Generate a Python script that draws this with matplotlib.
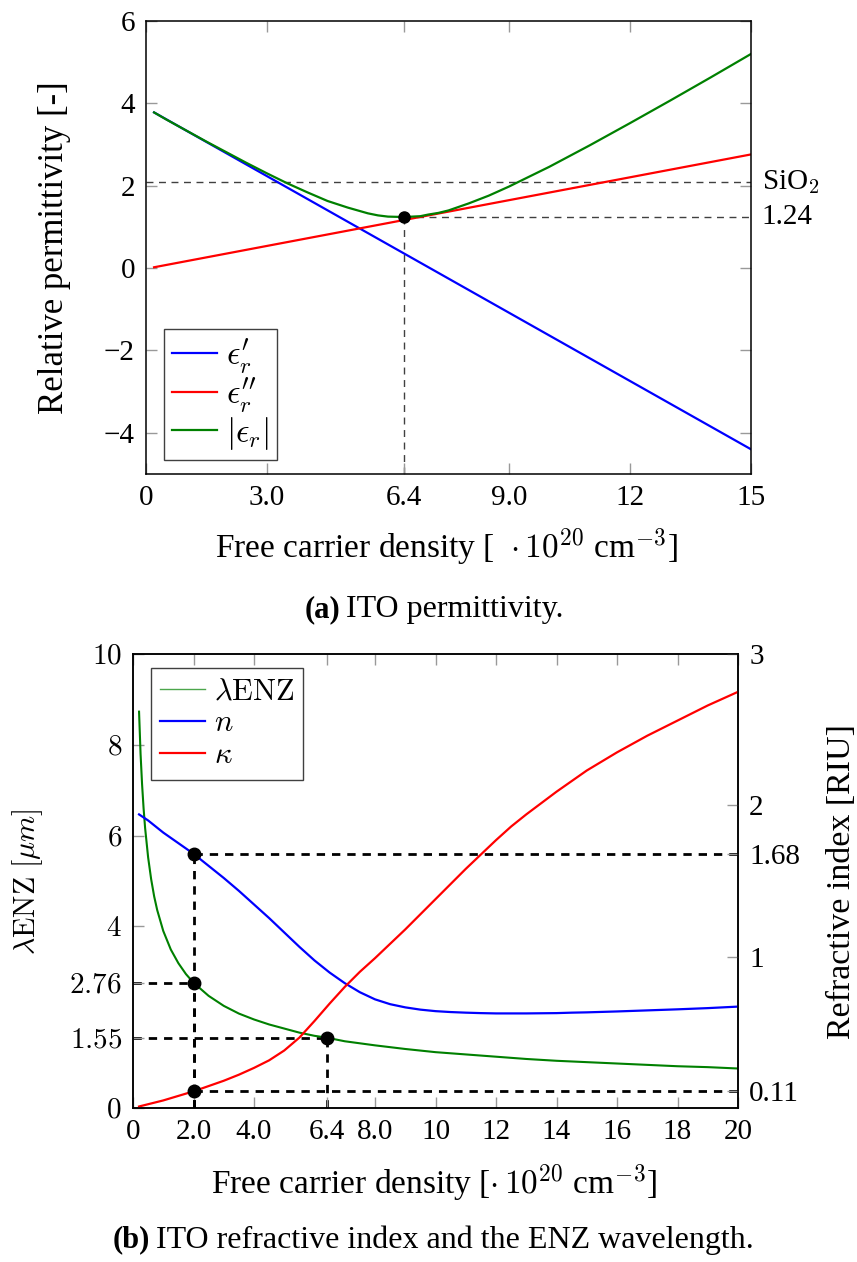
import matplotlib
matplotlib.use("Agg")
import matplotlib.pyplot as plt
from matplotlib.lines import Line2D

# (a) ITO permittivity vs free carrier density [1e20 cm^-3]
carrier_a = [0.2, 15.0]
eps_real = [3.78, -4.40]
eps_imag = [0.02, 2.76]
carrier_abs = [0.2, 0.5, 1.0, 1.5, 2.0, 2.5, 3.0, 3.5, 4.0, 4.5, 5.0, 5.5, 5.75,
               6.0, 6.4, 6.8, 7.0, 7.25, 7.5, 8.0, 8.5, 9.0, 9.5, 10, 11, 12,
               13, 14, 15]
eps_abs = [3.78, 3.61, 3.34, 3.07, 2.81, 2.55, 2.30, 2.06, 1.84, 1.63, 1.47,
           1.33, 1.28, 1.25, 1.24, 1.26, 1.30, 1.34, 1.40, 1.57, 1.76, 1.98,
           2.22, 2.46, 2.98, 3.52, 4.07, 4.63, 5.20]
sio2_eps = 2.08
enz_point = (6.4, 1.24)
xticks_a = [0, 3.0, 6.4, 9.0, 12, 15]
xticklabels_a = ["0", "3.0", "6.4", "9.0", "12", "15"]
yticks_a = [-4, -2, 0, 2, 4, 6]

# (b) ENZ wavelength (left axis, um) and refractive index (right axis, RIU)
carrier_lam = [0.2, 0.25, 0.3, 0.35, 0.4, 0.5, 0.6, 0.7, 0.8, 1.0, 1.25, 1.5,
               1.75, 2.0, 2.5, 3.0, 3.5, 4.0, 4.5, 5.0, 5.5, 6.0, 6.4, 7, 8, 9,
               10, 11, 12, 13, 14, 15, 16, 17, 18, 19, 20]
lambda_enz = [8.73, 7.80, 7.13, 6.60, 6.17, 5.52, 5.04, 4.66, 4.36, 3.90, 3.49,
              3.19, 2.95, 2.76, 2.47, 2.25, 2.08, 1.95, 1.84, 1.75, 1.66, 1.59,
              1.55, 1.47, 1.38, 1.30, 1.23, 1.18, 1.13, 1.08, 1.04, 1.01, 0.98,
              0.95, 0.92, 0.90, 0.87]
carrier_idx = [0.2, 0.5, 1.0, 1.5, 2.0, 2.5, 3.0, 3.5, 4.0, 4.5, 5.0, 5.5, 6.0,
               6.5, 7.0, 7.5, 8.0, 8.5, 9.0, 9.5, 10, 10.5, 11, 11.5, 12, 12.5,
               13, 13.5, 14, 14.5, 15, 16, 17, 18, 19, 20]
n_index = [1.94, 1.90, 1.82, 1.75, 1.68, 1.60, 1.52, 1.435, 1.345, 1.255, 1.16,
           1.065, 0.975, 0.895, 0.825, 0.765, 0.718, 0.686, 0.665, 0.65, 0.64,
           0.634, 0.63, 0.627, 0.625, 0.625, 0.625, 0.626, 0.627, 0.63, 0.632,
           0.638, 0.645, 0.652, 0.66, 0.67]
kappa = [0.01, 0.025, 0.05, 0.08, 0.11, 0.145, 0.18, 0.22, 0.265, 0.315, 0.38,
         0.465, 0.575, 0.69, 0.80, 0.90, 0.99, 1.085, 1.18, 1.28, 1.38, 1.48,
         1.58, 1.675, 1.77, 1.86, 1.94, 2.015, 2.09, 2.16, 2.23, 2.35, 2.46,
         2.56, 2.66, 2.75]
mark_lam = [(2.0, 2.76), (6.4, 1.55)]
mark_idx = [(2.0, 1.68), (2.0, 0.11)]
xticks_b = [0, 2.0, 4.0, 6.4, 8.0, 10, 12, 14, 16, 18, 20]
xticklabels_b = ["0", "2.0", "4.0", "6.4", "8.0", "10", "12", "14", "16", "18", "20"]
yticks_b = [0, 1.55, 2.76, 4, 6, 8, 10]
yticklabels_b = ["$0$", "$1.55$", "$2.76$", "$4$", "$6$", "$8$", "$10$"]
yticks_b_right = [0.11, 1, 1.68, 2, 3]
yticklabels_b_right = ["0.11", "1", "1.68", "2", "3"]

plt.rcParams["font.family"] = ["Liberation Serif", "DejaVu Serif"]
plt.rcParams["mathtext.fontset"] = "cm"

W, H = 857, 1262
BLUE, RED, GREEN = "#0000ff", "#ff0000", "#008000"
TICK_FS = 21


def px(x, y):
    return x / W, 1 - y / H


def style_axis(axis):
    axis.tick_params(direction="in", length=8, width=1, color="0.6",
                     labelsize=TICK_FS, pad=8)
    for sp in axis.spines.values():
        sp.set_linewidth(1.1)


fig = plt.figure(figsize=(W / 100, H / 100), dpi=100)

# ---------------- (a) ----------------
ax1 = fig.add_axes([146 / W, 1 - 474 / H, 605 / W, 453 / H])
ax1.plot(carrier_a, eps_real, color=BLUE, lw=1.6, label=r"$\epsilon_r'$")
ax1.plot(carrier_a, eps_imag, color=RED, lw=1.6, label=r"$\epsilon_r''$")
ax1.plot(carrier_abs, eps_abs, color=GREEN, lw=1.6, label=r"$|\epsilon_r|$")

dash_kw = dict(color="0.25", lw=1.0, dashes=(5, 4), zorder=1)
ax1.plot([0, 15], [sio2_eps, sio2_eps], **dash_kw)
ax1.plot([enz_point[0], 15], [enz_point[1], enz_point[1]], **dash_kw)
ax1.plot([enz_point[0], enz_point[0]], [-5, enz_point[1]], **dash_kw)
ax1.plot(*enz_point, "o", color="k", ms=8, zorder=5)

ax1.set_xlim(0, 15)
ax1.set_ylim(-5, 6)
ax1.set_xticks(xticks_a)
ax1.set_xticklabels(xticklabels_a)
ax1.set_yticks(yticks_a)
style_axis(ax1)
ax1.tick_params(top=True, right=True)

ax1.text(1.018, sio2_eps, "SiO$_2$", transform=ax1.get_yaxis_transform(),
         fontsize=TICK_FS, va="center", ha="left")
ax1.text(1.018, enz_point[1], "1.24", transform=ax1.get_yaxis_transform(),
         fontsize=TICK_FS, va="center", ha="left")

leg1 = ax1.legend(loc="lower left", bbox_to_anchor=(0.03, 0.031),
                  borderaxespad=0, fontsize=24, fancybox=False,
                  edgecolor="0.25", framealpha=1, handlelength=1.35,
                  handletextpad=0.25, labelspacing=0.0, borderpad=0.25)
leg1.get_frame().set_linewidth(1.0)

fig.text(*px(55, 248), "Relative permittivity [-]", rotation=90,
         fontsize=25, ha="center", va="center")
fig.text(*px(447, 547), r"Free carrier density [  $\cdot\,10^{20}$ cm$^{-3}$]",
         fontsize=24, ha="center", va="center")
fig.text(*px(340, 610), "(a)", fontsize=22, fontweight="bold",
         ha="right", va="center")
fig.text(*px(346, 610), "ITO permittivity.", fontsize=23,
         ha="left", va="center")

# ---------------- (b) ----------------
ax2 = fig.add_axes([133 / W, 1 - 1108 / H, 605 / W, 454 / H])
ax2r = ax2.twinx()

ax2.plot(carrier_lam, lambda_enz, color=GREEN, lw=1.5)
ax2r.plot(carrier_idx, n_index, color=BLUE, lw=1.6)
ax2r.plot(carrier_idx, kappa, color=RED, lw=1.6)

dash_b = dict(color="k", lw=2.0, dashes=(3, 2.5), zorder=1)
for xv, yv in mark_lam:
    ax2.plot([0, xv], [yv, yv], **dash_b)
    ax2.plot([xv, xv], [0, yv], **dash_b)
for xv, yv in mark_idx:
    ax2r.plot([xv, 20], [yv, yv], **dash_b)
    ax2r.plot([xv, xv], [0, yv], **dash_b)
ax2.plot([p[0] for p in mark_lam], [p[1] for p in mark_lam], "o",
         color="k", ms=9, zorder=5)
ax2r.plot([p[0] for p in mark_idx], [p[1] for p in mark_idx], "o",
          color="k", ms=9, zorder=5)

ax2.set_xlim(0, 20)
ax2.set_ylim(0, 10)
ax2r.set_ylim(0, 3)
ax2.set_xticks(xticks_b)
ax2.set_xticklabels(xticklabels_b)
ax2.set_yticks(yticks_b)
ax2.set_yticklabels(yticklabels_b)
ax2r.set_yticks(yticks_b_right)
ax2r.set_yticklabels(yticklabels_b_right)
style_axis(ax2)
style_axis(ax2r)
ax2.tick_params(top=True)

handles = [Line2D([], [], color=GREEN, lw=1.0, alpha=0.7),
           Line2D([], [], color=BLUE, lw=1.6),
           Line2D([], [], color=RED, lw=1.6)]
labels = [r"$\lambda\mathrm{ENZ}$", r"$n$", r"$\kappa$"]
leg2 = ax2r.legend(handles, labels, loc="upper left",
                   bbox_to_anchor=(0.03, 0.969), borderaxespad=0,
                   fontsize=22, fancybox=False, edgecolor="0.25",
                   framealpha=1, handlelength=1.45, handletextpad=0.3,
                   labelspacing=0.1, borderpad=0.3)
leg2.get_frame().set_linewidth(1.0)

fig.text(*px(28, 882), r"$\lambda\mathrm{ENZ}\ [\mu m]$", rotation=90,
         fontsize=21.5, ha="center", va="center")
fig.text(*px(842, 882), "Refractive index [RIU]", rotation=90,
         fontsize=24.5, ha="center", va="center")
fig.text(*px(434, 1183), r"Free carrier density [$\cdot\,10^{20}$ cm$^{-3}$]",
         fontsize=24, ha="center", va="center")
fig.text(*px(150, 1240), "(b)", fontsize=22, fontweight="bold",
         ha="right", va="center")
fig.text(*px(156, 1240), "ITO refractive index and the ENZ wavelength.",
         fontsize=23, ha="left", va="center")

fig.savefig("out.png", dpi=100)
